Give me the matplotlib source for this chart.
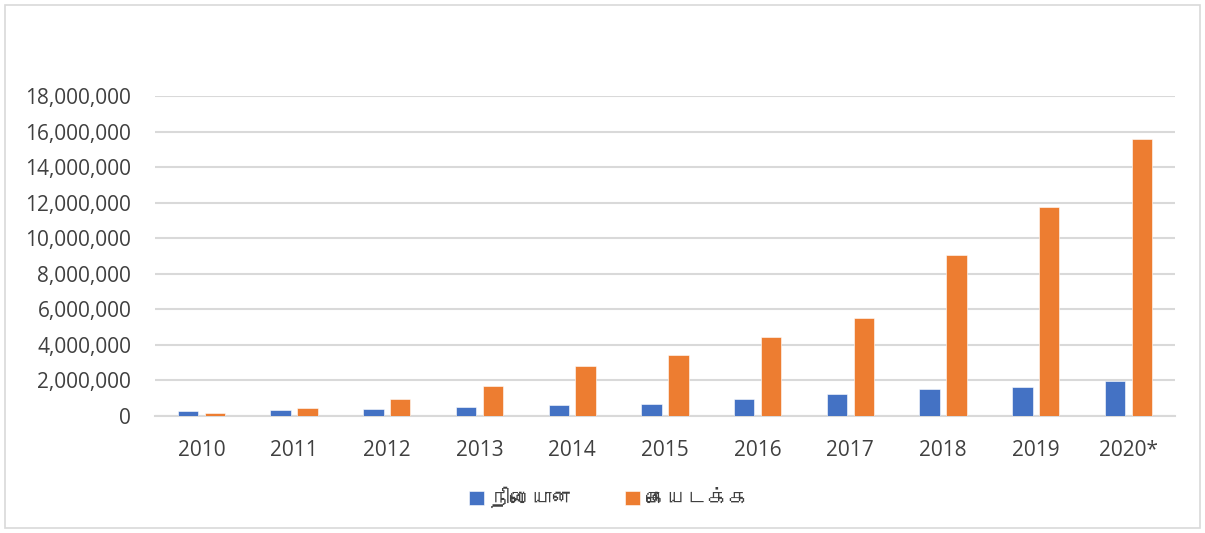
"""
Fixed vs mobile connections by year, grouped bar chart.
"""
import numpy as np
import matplotlib
matplotlib.use("Agg")
import matplotlib.pyplot as plt
from matplotlib import font_manager
from matplotlib.ft2font import FT2Font
from matplotlib.patches import Rectangle
from matplotlib.ticker import FuncFormatter

years = ["2010", "2011", "2012", "2013", "2014", "2015",
         "2016", "2017", "2018", "2019", "2020*"]
fixed = [280000, 330000, 400000, 490000, 600000, 660000,
         930000, 1220000, 1540000, 1630000, 1950000]
mobile = [180000, 450000, 930000, 1680000, 2800000, 3420000,
          4430000, 5530000, 9050000, 11780000, 15600000]
labels = ["நிலையான", "கையடக்க"]


def find_tamil_font():
    """
    Looks for any installed font that has Tamil glyphs.
    """
    for f in font_manager.fontManager.ttflist:
        try:
            if 0x0BA8 in FT2Font(f.fname).get_charmap():
                return f.name
        except Exception:
            pass
    return None


def main():
    text_color = "#404040"
    grid_color = "#D9D9D9"
    plt.rcParams["font.family"] = ["Open Sans", "DejaVu Sans"]

    fig = plt.figure(figsize=(12.05, 5.33), dpi=100)
    ax = fig.add_axes([0.1286, 0.2195, 0.8464, 0.6004])

    x = np.arange(len(years))
    w = 0.22
    ax.bar(x - 0.145, fixed, w, color="#4472C4", label=labels[0],
           edgecolor="white", linewidth=0.4, zorder=3)
    ax.bar(x + 0.145, mobile, w, color="#ED7D31", label=labels[1],
           edgecolor="white", linewidth=0.4, zorder=3)

    ax.set_xlim(-0.5, len(years) - 0.5)
    ax.set_ylim(0, 18000000)
    ax.set_yticks(np.arange(0, 18000001, 2000000))
    ax.yaxis.set_major_formatter(FuncFormatter(lambda v, p: f"{v:,.0f}"))
    ax.set_xticks(x)
    ax.set_xticklabels(years)
    ax.tick_params(axis="both", length=0, labelsize=15,
                   labelcolor=text_color)
    ax.tick_params(axis="y", pad=17)
    ax.tick_params(axis="x", pad=17)

    ax.grid(axis="y", color=grid_color, linewidth=1.5, zorder=0)
    for side in ["top", "right", "left"]:
        ax.spines[side].set_visible(False)
    ax.spines["bottom"].set_color(grid_color)
    ax.spines["bottom"].set_linewidth(1.5)

    tamil = find_tamil_font()
    fams = [tamil, "DejaVu Sans"] if tamil else ["DejaVu Sans"]
    ax.legend(loc="center", bbox_to_anchor=(0.446, -0.255), ncol=2,
              frameon=False, handlelength=0.7, handleheight=0.7,
              handletextpad=0.3, columnspacing=2.5,
              prop={"family": fams, "size": 15}, labelcolor=text_color)

    fig.patches.append(Rectangle((5 / 1205, 5 / 533), 1195 / 1205,
                                 523 / 533, transform=fig.transFigure,
                                 fill=False, edgecolor=grid_color,
                                 linewidth=1.2))
    plt.savefig("out.png", dpi=100)


if __name__ == "__main__":
    main()
